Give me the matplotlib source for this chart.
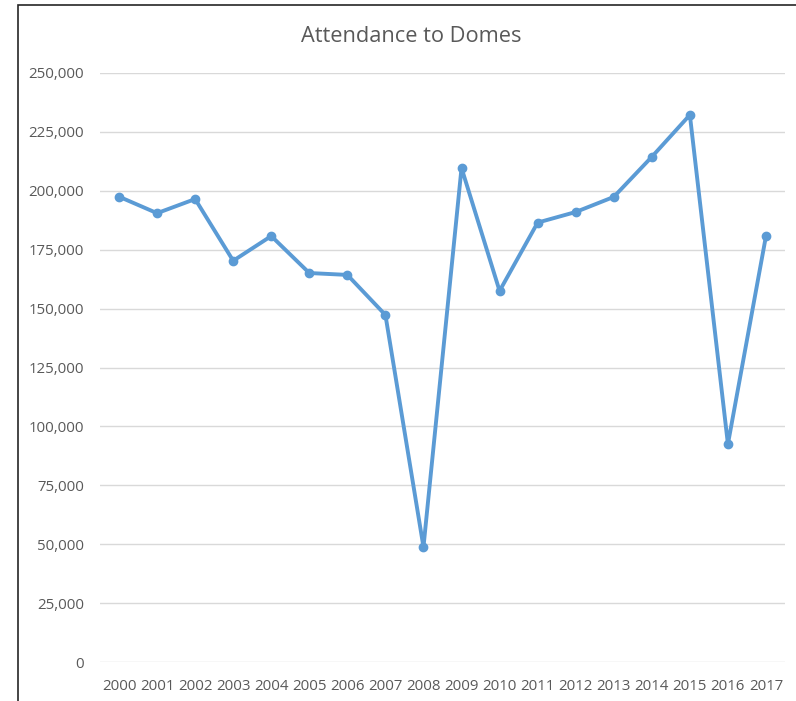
import matplotlib
matplotlib.use("Agg")
import matplotlib.pyplot as plt
from matplotlib.patches import Rectangle
from matplotlib.ticker import FuncFormatter

# data
years = [str(y) for y in range(2000, 2018)]
attendance = [197500, 190500, 196500, 170300, 180800, 165100, 164300, 147300,
              48800, 209700, 157500, 186500, 191000, 197400, 214400, 232200,
              92500, 180800]
y_ticks = list(range(0, 250001, 25000))

plt.rcParams['font.family'] = ['Open Sans', 'DejaVu Sans']

fig = plt.figure(figsize=(7.96, 7.01), dpi=100)
ax = fig.add_axes([100 / 796, 39 / 701, 685 / 796, 589 / 701])

# outer frame of the chart object
fig.patches.append(Rectangle((18 / 796, -0.01), 1.0, (701 - 5) / 701 + 0.01,
                             transform=fig.transFigure, fill=False,
                             edgecolor='#262626', linewidth=1.2))

x = list(range(len(years)))
ax.plot(x, attendance, color='#5B9BD5', linewidth=2.8, marker='o',
        markersize=6, solid_joinstyle='round', zorder=3)

ax.set_xlim(-0.5, len(years) - 0.5)
ax.set_ylim(0, 250000)
ax.set_xticks(x)
ax.set_xticklabels(years)
ax.set_yticks(y_ticks)
ax.yaxis.set_major_formatter(FuncFormatter(lambda v, p: f"{int(v):,}"))
ax.grid(axis='y', color='#D9D9D9', linewidth=1)
ax.set_axisbelow(True)
for s in ax.spines.values():
    s.set_visible(False)
ax.tick_params(length=0, labelsize=10.8, colors='#595959')
ax.tick_params(axis='x', pad=12)
ax.tick_params(axis='y', pad=11.5)

fig.text(411 / 796, 1 - 37 / 701, 'Attendance to Domes', ha='center', va='center',
         fontsize=15.7, color='#595959')

fig.savefig('out.png', dpi=100)
